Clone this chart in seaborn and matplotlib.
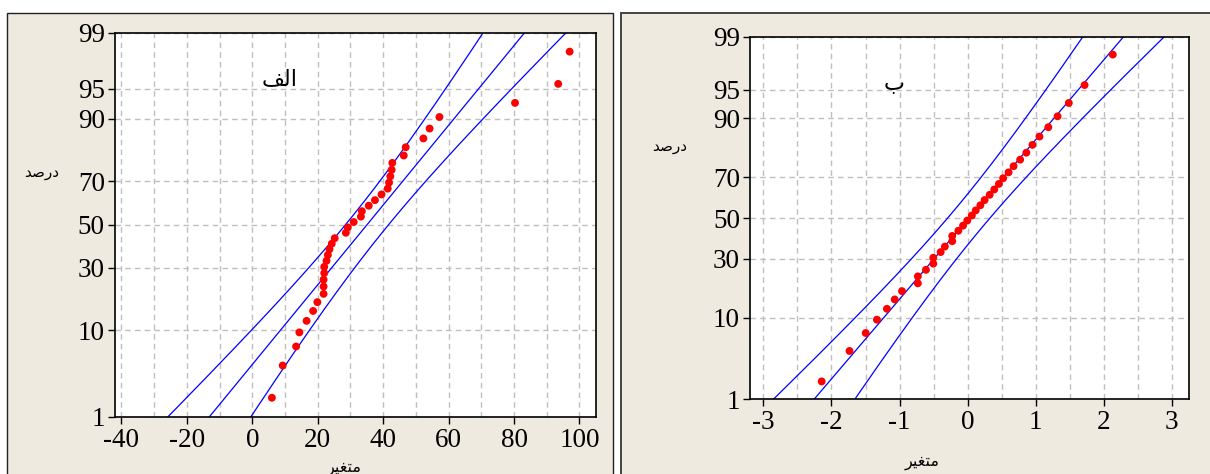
import numpy as np
import pandas as pd
import matplotlib
matplotlib.use("Agg")
import matplotlib.pyplot as plt
import seaborn as sns
from matplotlib.patches import Rectangle
from matplotlib.ticker import NullLocator
from statistics import NormalDist

# ---------------- data ----------------
left_x = [6.0, 9.3, 13.4, 14.4, 16.6, 18.6, 19.9, 21.8, 21.8, 21.8, 22.0, 22.0,
          22.7, 23.1, 23.6, 24.3, 25.2, 28.6, 29.2, 31.0, 33.2, 33.5, 35.6, 37.5,
          39.5, 41.4, 41.8, 42.2, 42.6, 42.8, 46.3, 46.9, 52.3, 54.2, 57.2, 80.3,
          93.5, 97.0]
left_pct = [1.8, 4.4, 7.0, 9.6, 12.2, 14.8, 17.4, 20.1, 22.7, 25.3, 27.9, 30.5,
            33.1, 35.7, 38.3, 40.9, 43.5, 46.1, 48.7, 51.3, 53.9, 56.5, 59.1, 61.7,
            64.3, 66.9, 69.5, 72.1, 74.7, 77.3, 79.9, 82.6, 85.2, 87.8, 90.4, 93.0,
            95.6, 98.2]
right_x = [-2.144, -1.735, -1.497, -1.332, -1.185, -1.071, -0.964, -0.731, -0.731,
           -0.612, -0.504, -0.504, -0.396, -0.334, -0.226, -0.226, -0.136, -0.067,
           -0.005, 0.063, 0.120, 0.188, 0.250, 0.324, 0.392, 0.460, 0.522, 0.602,
           0.676, 0.772, 0.863, 0.953, 1.056, 1.186, 1.322, 1.487, 1.719, 2.133]
right_pct = left_pct

left_xticks = [-40, -20, 0, 20, 40, 60, 80, 100]
right_xticks = [-3, -2, -1, 0, 1, 2, 3]
y_ticks = [1, 10, 30, 50, 70, 90, 95, 99]
y_ticklabels = ["1", "10", "30", "50", "70", "90", "95", "99"]

# Arabic texts (presentation forms, visual order)
title_left = "\uFED2\uFEDF\uFE8D"            # الف
title_right = "\u0628"                        # ب
ylabel_txt = "\uFEAA\uFEBB\uFEAD\uFEA9"       # درصد
xlabel_txt = "\uFEAE\uFEF4\uFED0\uFE98\uFEE3" # متغیر

# ---------------- style ----------------
sns.set_style("white")
plt.rcParams["font.family"] = ["Liberation Serif", "DejaVu Sans"]

W, H = 1210, 474
fig = plt.figure(figsize=(W / 100, H / 100), dpi=100, facecolor="white")

def frac_rect(l, r, t, b):
    return [l / W, (H - b) / H, (r - l) / W, (b - t) / H]

# beige panels
fig.add_artist(Rectangle((7 / W, -0.05), 606 / W, (H - 13) / H + 0.05,
                         transform=fig.transFigure, facecolor="#EEEAE0",
                         edgecolor="#222222", lw=1.0, zorder=-5))
fig.add_artist(Rectangle((621 / W, -0.05), (W - 621 + 10) / W, (H - 13) / H + 0.05,
                         transform=fig.transFigure, facecolor="#EEEAE0",
                         edgecolor="#444444", lw=1.4, zorder=-5))

nd = NormalDist()
fwd_v = np.vectorize(nd.inv_cdf, otypes=[float])
inv_v = np.vectorize(nd.cdf, otypes=[float])

def fwd(p):
    p = np.clip(np.asarray(p, dtype=float) / 100.0, 1e-9, 1 - 1e-9)
    return fwd_v(p)

def inv(z):
    return inv_v(np.asarray(z, dtype=float)) * 100.0


def draw(ax, xs, pct, xlim, xmajor, xminor):
    ax.set_facecolor("white")
    df = pd.DataFrame({"x": xs, "pct": pct})
    n = len(xs)
    mu = float(np.mean(xs))
    sd = float(np.std(xs, ddof=1))
    z = np.linspace(-2.7, 2.7, 300)
    half = 1.96 * sd * np.sqrt(1.0 / n + z ** 2 / (2.0 * n))
    fit = mu + z * sd
    pz = inv(z)
    for line in (fit - half, fit, fit + half):
        sns.lineplot(x=line, y=pz, ax=ax, sort=False, estimator=None,
                     color="#0000FF", lw=0.9, zorder=2)
    sns.scatterplot(data=df, x="x", y="pct", ax=ax, color="#FF0000", s=32,
                    edgecolor="none", linewidth=0, zorder=3)
    ax.set_yscale("function", functions=(fwd, inv))
    ax.set_ylim(1, 99)
    ax.set_xlim(*xlim)
    ax.set_yticks(y_ticks)
    ax.set_yticklabels(y_ticklabels)
    ax.yaxis.set_minor_locator(NullLocator())
    ax.set_xticks(xmajor)
    ax.set_xticklabels([str(v) for v in xmajor])
    ax.set_xticks(xminor, minor=True)
    ax.set_axisbelow(True)
    gkw = dict(ls=(0, (4, 3)), color="#BFBFBF", lw=1.0)
    ax.grid(True, which="both", axis="x", **gkw)
    ax.grid(True, which="major", axis="y", **gkw)
    ax.tick_params(axis="both", which="major", direction="out", length=5,
                   width=1, color="black", labelsize=19.5, pad=2,
                   labelcolor="black", bottom=True, left=True)
    ax.tick_params(axis="x", which="major", pad=3)
    ax.tick_params(axis="both", which="minor", length=0)
    ax.set_xlabel("")
    ax.set_ylabel("")
    for s in ax.spines.values():
        s.set_visible(True)
        s.set_color("black")
        s.set_linewidth(1.2)


axL = fig.add_axes(frac_rect(114.5, 595.5, 32.7, 416.7))
draw(axL, left_x, left_pct, (-42.1, 104.9), left_xticks, list(range(-40, 101, 10)))

axR = fig.add_axes(frac_rect(749.8, 1188.8, 36.7, 399.3))
draw(axR, right_x, right_pct, (-3.2, 3.25), right_xticks,
     list(np.arange(-3, 3.01, 0.5)))

def ftext(x, y, s, size):
    fig.text(x / W, 1 - y / H, s, ha="center", va="center", fontsize=size,
             color="black", family=["DejaVu Sans"])

ftext(280, 79, title_left, 16)
ftext(894, 84, title_right, 16)
ftext(42, 172, ylabel_txt, 11)
ftext(670, 146, ylabel_txt, 11)
ftext(344, 468, xlabel_txt, 11.5)
ftext(922, 462, xlabel_txt, 11.5)

fig.savefig("out.png", dpi=100, facecolor="white")
